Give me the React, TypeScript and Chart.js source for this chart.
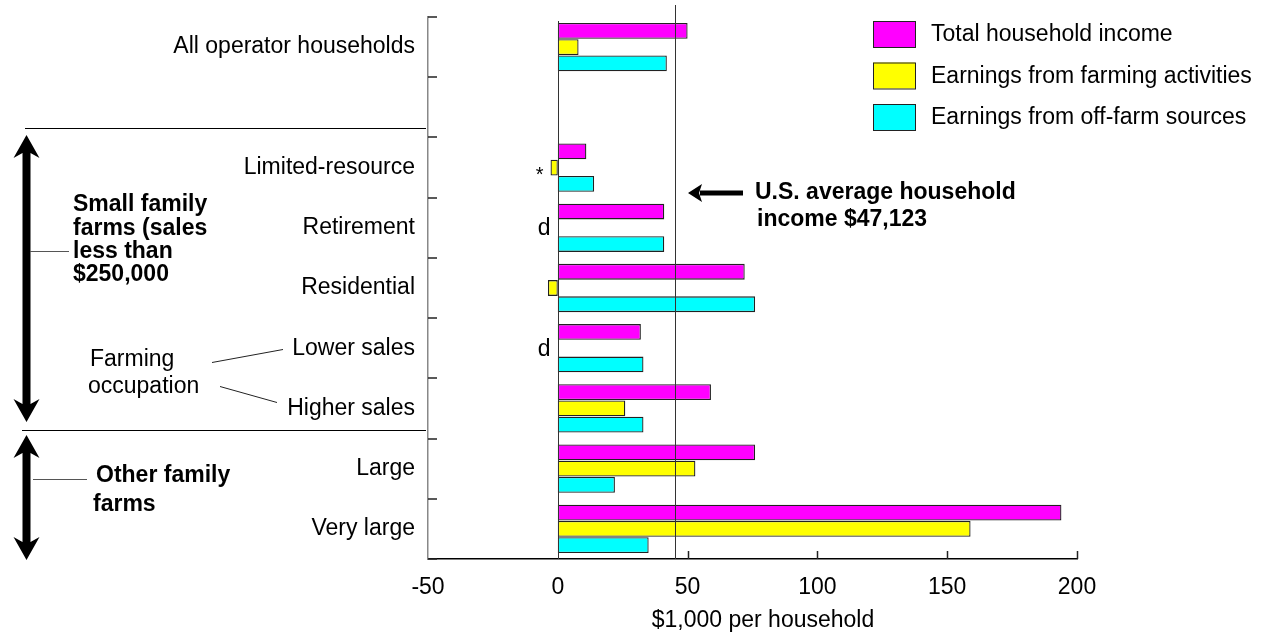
import React, { useEffect, useRef } from "react";
import { Chart, registerables } from "chart.js";

Chart.register(...registerables);

const FONT = "'Liberation Sans', Arial, Helvetica, sans-serif";

const categories = [
  "All operator households",
  "",
  "Limited-resource",
  "Retirement",
  "Residential",
  "Lower sales",
  "Higher sales",
  "Large",
  "Very large",
];
const seriesLabels = [
  "Total household income",
  "Earnings from farming activities",
  "Earnings from off-farm sources",
];
const totalIncome = [50, null, 11, 41, 72, 32, 59, 76, 194];
const farmingEarnings = [8, null, -2.8, null, -3.8, null, 26, 53, 159];
const offFarmEarnings = [42, null, 14, 41, 76, 33, 33, 22, 35];
const seriesColors = ["#FF00FF", "#FFFF00", "#00FFFF"];
const xMin = -50;
const xMax = 200;
const xStep = 50;
const averageLineValue = 45.2; // where the U.S. average line is drawn
const averageText = ["U.S. average household", "income $47,123"];
const dMarkCategories = [3, 5];
const starMarkCategories = [2];
const axisTitle = "$1,000 per household";

function vArrow(ctx: CanvasRenderingContext2D, x: number, y1: number, y2: number) {
  const hw = 13, hl = 23, notch = 5, sw = 4;
  ctx.beginPath();
  ctx.moveTo(x, y1);
  ctx.lineTo(x + hw, y1 + hl);
  ctx.lineTo(x + sw, y1 + hl - notch);
  ctx.lineTo(x + sw, y2 - hl + notch);
  ctx.lineTo(x + hw, y2 - hl);
  ctx.lineTo(x, y2);
  ctx.lineTo(x - hw, y2 - hl);
  ctx.lineTo(x - sw, y2 - hl + notch);
  ctx.lineTo(x - sw, y1 + hl - notch);
  ctx.lineTo(x - hw, y1 + hl);
  ctx.closePath();
  ctx.fill();
}

function line(ctx: CanvasRenderingContext2D, x1: number, y1: number, x2: number, y2: number) {
  ctx.beginPath();
  ctx.moveTo(x1, y1);
  ctx.lineTo(x2, y2);
  ctx.stroke();
}

const decorations = {
  id: "decorations",
  afterDatasetsDraw(chart: any) {
    const ctx: CanvasRenderingContext2D = chart.ctx;
    const xs = chart.scales.x;
    const ys = chart.scales.y;
    const area = chart.chartArea;
    ctx.save();

    // zero line and average line
    ctx.strokeStyle = "#333";
    ctx.lineWidth = 1;
    const x0 = Math.round(xs.getPixelForValue(0)) + 0.5;
    line(ctx, x0, area.top + 4, x0, area.bottom);
    const xa = Math.round(xs.getPixelForValue(averageLineValue)) + 0.5;
    line(ctx, xa, area.top - 12, xa, area.bottom);

    // inward ticks on y axis at category boundaries
    ctx.strokeStyle = "#222";
    ctx.lineWidth = 1.5;
    for (let i = 0; i <= categories.length; i++) {
      const y = Math.round(ys.getPixelForValue(i - 0.5));
      line(ctx, area.left, y, area.left + 9, y);
    }
    // inward ticks on x axis
    for (let v = xMin + xStep; v <= xMax; v += xStep) {
      if (v === 0) continue;
      const x = Math.round(xs.getPixelForValue(v)) + 0.5;
      line(ctx, x, area.bottom, x, area.bottom - 8);
    }

    // "d" and "*" marks
    ctx.fillStyle = "#000";
    ctx.font = `23px ${FONT}`;
    ctx.textAlign = "right";
    ctx.textBaseline = "middle";
    dMarkCategories.forEach((c) => {
      ctx.fillText("d", x0 - 8, ys.getPixelForValue(c) + 1);
    });
    starMarkCategories.forEach((c) => {
      const bar = chart.getDatasetMeta(1).data[c];
      ctx.font = `20px ${FONT}`;
      ctx.textBaseline = "alphabetic";
      ctx.fillText("*", Math.min(bar.x, bar.base) - 7, bar.y + 13);
    });

    // separators
    ctx.strokeStyle = "#000";
    ctx.lineWidth = 1;
    const s1 = Math.round(ys.getPixelForValue(1.34)) + 0.5;
    const s2 = Math.round(ys.getPixelForValue(6.35)) + 0.5;
    line(ctx, 25, s1, area.left - 2, s1);
    line(ctx, 22, s2, area.left - 2, s2);

    // big arrows
    ctx.fillStyle = "#000";
    vArrow(ctx, 26.5, 135, 422);
    vArrow(ctx, 26.5, 435, 560);
    ctx.strokeStyle = "#555";
    line(ctx, 30, 251.5, 69, 251.5);
    line(ctx, 33, 479.5, 87, 479.5);

    // group labels
    ctx.fillStyle = "#000";
    ctx.textAlign = "left";
    ctx.textBaseline = "alphabetic";
    ctx.font = `bold 23px ${FONT}`;
    const small = ["Small family", "farms (sales", "less than", "$250,000"];
    const smallY = [211, 234.5, 257.5, 281];
    small.forEach((t, i) => ctx.fillText(t, 73, smallY[i]));
    ctx.fillText("Other family", 96, 482);
    ctx.fillText("farms", 93, 511);

    ctx.font = `23px ${FONT}`;
    ctx.fillText("Farming", 90, 366);
    ctx.fillText("occupation", 88, 393);
    ctx.strokeStyle = "#222";
    line(ctx, 212, 362.5, 283, 349.5);
    line(ctx, 220, 386.5, 277, 402.5);

    // average annotation
    const ay = 193;
    ctx.fillStyle = "#000";
    ctx.fillRect(700, ay - 2.5, 43, 5);
    ctx.beginPath();
    ctx.moveTo(688, ay);
    ctx.lineTo(702, ay - 9);
    ctx.lineTo(699, ay);
    ctx.lineTo(702, ay + 9);
    ctx.closePath();
    ctx.fill();
    ctx.font = `bold 23px ${FONT}`;
    ctx.fillText(averageText[0], 755, 198.5);
    ctx.fillText(averageText[1], 757, 225.5);

    // legend
    const lx = 873, lw = 42, lh = 26;
    const lTops = [21, 62.5, 104];
    chart.data.datasets.forEach((ds: any, i: number) => {
      ctx.fillStyle = ds.backgroundColor;
      ctx.fillRect(lx, lTops[i], lw, lh);
      ctx.strokeStyle = "#222";
      ctx.lineWidth = 1;
      ctx.strokeRect(lx + 0.5, lTops[i] + 0.5, lw, lh);
      ctx.fillStyle = "#000";
      ctx.font = `23px ${FONT}`;
      ctx.textAlign = "left";
      ctx.textBaseline = "middle";
      ctx.fillText(ds.label, 931, lTops[i] + lh / 2 + 1);
    });

    // axis title
    ctx.textAlign = "center";
    ctx.textBaseline = "middle";
    ctx.font = `23px ${FONT}`;
    ctx.fillText(axisTitle, 763, 621);

    ctx.restore();
  },
};

export default function App() {
  const ref = useRef<HTMLCanvasElement | null>(null);
  useEffect(() => {
    if (!ref.current) return;
    const values = [totalIncome, farmingEarnings, offFarmEarnings];
    const chart = new Chart(ref.current, {
      type: "bar",
      data: {
        labels: categories,
        datasets: values.map((d, i) => ({
          label: seriesLabels[i],
          data: d,
          backgroundColor: seriesColors[i],
          borderColor: "#222",
          borderWidth: 1.3,
          borderSkipped: false,
          categoryPercentage: 0.81,
          barPercentage: 0.97,
        })),
      },
      options: {
        indexAxis: "y",
        responsive: false,
        animation: false,
        devicePixelRatio: 1,
        layout: { padding: { top: 17, right: 191, left: 0, bottom: 0 } },
        plugins: { legend: { display: false }, tooltip: { enabled: false } },
        scales: {
          x: {
            type: "linear",
            min: xMin,
            max: xMax,
            ticks: {
              stepSize: xStep,
              color: "#000",
              font: { family: FONT, size: 23 },
              padding: 15,
            },
            grid: { display: false, drawTicks: false },
            border: { display: true, color: "#000", width: 1.5 },
            afterFit: (s: any) => {
              s.height = 74;
              s.paddingLeft = 0;
              s.paddingRight = 0;
            },
          },
          y: {
            type: "category",
            offset: true,
            grid: { display: false, offset: true, drawTicks: false },
            border: { display: true, color: "#888", width: 1.5 },
            ticks: {
              color: "#000",
              font: { family: FONT, size: 23 },
              padding: 13,
              autoSkip: false,
            },
            afterFit: (s: any) => {
              s.width = 428;
              s.paddingTop = 0;
              s.paddingBottom = 0;
            },
          },
        },
      },
      plugins: [decorations],
    } as any);
    return () => chart.destroy();
  }, []);
  return (
    <div style={{ position: "fixed", left: 0, top: 0, width: 1268, height: 633, background: "#fff" }}>
      <canvas ref={ref} width={1268} height={633} />
    </div>
  );
}
